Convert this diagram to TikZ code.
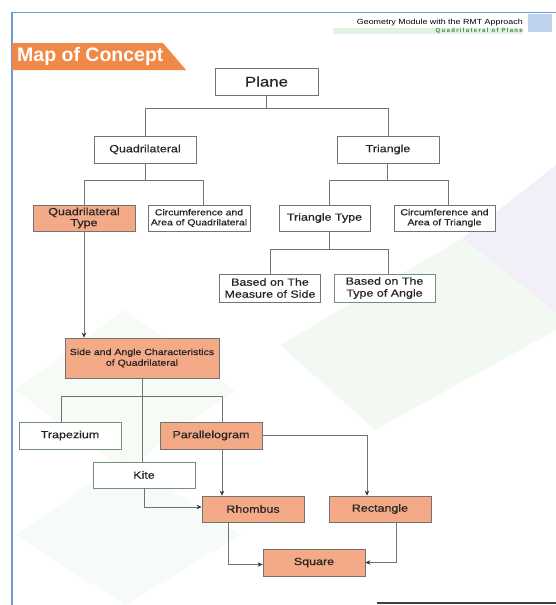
\documentclass[tikz,border=0pt]{standalone}
\usepackage{fontspec}
\setmainfont[FakeStretch=1.2,FakeBold=0.6]{Liberation Sans}
\newfontfamily\hdfont{Liberation Sans}
\usetikzlibrary{arrows.meta}
\definecolor{boxgray}{RGB}{115,115,115}
\definecolor{greenborder}{RGB}{115,145,120}
\definecolor{boxorange}{RGB}{245,170,135}
\definecolor{bannerorange}{RGB}{240,137,72}
\definecolor{pageblue}{RGB}{110,155,216}
\definecolor{bggreen}{RGB}{215,238,215}
\definecolor{bgpurple}{RGB}{232,226,245}
\definecolor{hdgreen}{RGB}{60,140,60}
\begin{document}
\begin{tikzpicture}[x=1pt,y=-1pt,
  box/.style={draw=boxgray, line width=0.75pt, fill=white, align=center, inner sep=1pt,
    text=black!85, font=\fontsize{10.4}{11.5}\selectfont, minimum width=102pt, minimum height=27pt},
  smallbox/.style={box, font=\fontsize{8.7}{10}\selectfont},
  obox/.style={box, fill=boxorange},
  conn/.style={draw=boxgray, line width=0.75pt},
  arr/.style={conn, -{Stealth[length=5pt,width=4.5pt,fill=black!80,color=black!80]}}]
\useasboundingbox (0,0) rectangle (556,605);
\fill[white] (0,0) rectangle (556,605);
% background decoration
\fill[bgpurple, opacity=0.55] (463,238) -- (556,165) -- (556,312) -- cycle;
\fill[bggreen, opacity=0.3] (463,238) -- (280,345) -- (375,430) -- (556,330) -- (556,312) -- cycle;
\fill[bggreen, opacity=0.22] (125,310) -- (15,390) -- (125,470) -- (235,390) -- cycle;
\fill[bggreen, opacity=0.2] (125,460) -- (15,535) -- (125,605) -- (240,535) -- cycle;
% page frame
\draw[pageblue, line width=1.5pt] (12,605) -- (12,12.5) -- (556,12.5);
\fill[pageblue!45] (528,14) rectangle (552,32);
\fill[bggreen!70] (333,28) rectangle (523,34);
\node[anchor=east, inner sep=0pt, font=\hdfont\fontsize{7.4}{8}\selectfont, xscale=1.2] (hd1) at (523,23) {Geometry Module with the RMT Approach};
\node[anchor=east, inner sep=0pt, text=hdgreen, font=\hdfont\bfseries\fontsize{6}{7}\selectfont\addfontfeature{LetterSpace=22}] (hd2) at (523,31) {Quadrilateral of Plane};
% banner
\fill[bannerorange] (12,43) -- (163,43) -- (186,70) -- (12,70) -- cycle;
\node[anchor=west, inner sep=0pt, text=white, font=\hdfont\bfseries\fontsize{19.5}{22}\selectfont] (title) at (17,56.5) {Map of Concept};
% nodes
\node[box, minimum width=103pt, font=\fontsize{14}{16}\selectfont] (plane) at (266.5,81.5) {Plane};
\node[box] (quad) at (145,149.5) {Quadrilateral};
\node[box] (tri) at (388,149.5) {Triangle};
\node[obox, minimum height=26pt, font=\fontsize{10.4}{11}\selectfont] (qtype) at (84,218) {Quadrilateral\\Type};
\node[smallbox, minimum height=26pt] (cquad) at (199,218) {Circumference and\\Area of Quadrilateral};
\node[box, minimum width=91pt, minimum height=26pt] (ttype) at (324.5,218) {Triangle Type};
\node[smallbox, minimum width=101pt, minimum height=26pt] (ctri) at (444.5,218) {Circumference and\\Area of Triangle};
\node[box, minimum width=101pt, minimum height=28pt, font=\fontsize{10.4}{12}\selectfont] (side) at (270,288) {Based on The\\Measure of Side};
\node[box, draw=greenborder, minimum width=101pt, minimum height=28pt, font=\fontsize{10.4}{12}\selectfont] (angle) at (384.5,288) {Based on The\\Type of Angle};
\node[obox, minimum width=154pt, minimum height=40pt, font=\fontsize{8.8}{10.7}\selectfont] (sac) at (142,358) {Side and Angle Characteristics\\of Quadrilateral};
\node[box, draw=greenborder] (trap) at (70,435.5) {Trapezium};
\node[obox] (para) at (211,435.5) {Parallelogram};
\node[box, draw=greenborder, minimum height=26pt] (kite) at (144,475) {Kite};
\node[obox, minimum height=26pt] (rhom) at (253,509) {Rhombus};
\node[obox, minimum height=26pt] (rect) at (380,509) {Rectangle};
\node[obox] (square) at (314,562.5) {Square};
% connectors
\draw[conn] (plane.south) -- ++(0,13) coordinate (b1);
\draw[conn] (b1) -| (quad.north);
\draw[conn] (b1) -| (tri.north);
\draw[conn] (quad.south) -- ++(0,17) coordinate (b2);
\draw[conn] (b2) -| (qtype.north);
\draw[conn] (b2) -| ([xshift=4pt]cquad.north);
\draw[conn] ([xshift=-0.5pt]tri.south) -- ++(0,17) coordinate (b3);
\draw[conn] (b3) -| ([xshift=4.5pt]ttype.north);
\draw[conn] (b3) -| ([xshift=4pt]ctri.north);
\draw[conn] ([xshift=4.5pt]ttype.south) -- ++(0,18) coordinate (b4);
\draw[conn] (b4) -| (side.north);
\draw[conn] (b4) -| ([xshift=4pt]angle.north);
\draw[arr] (qtype.south) -- (qtype.south |- sac.north);
\draw[conn] (sac.south) -- (sac.south |- kite.north);
\draw[conn] ([xshift=-9pt]trap.north) -- ++(0,-25) -| ([xshift=11pt]para.north);
\draw[arr] ([xshift=11pt]para.south) -- ([xshift=11pt]para.south |- rhom.north);
\draw[arr] (para.east) -| ([xshift=-13pt]rect.north);
\draw[arr] (kite.south) |- ([yshift=2pt]rhom.west);
\draw[arr] ([xshift=-25pt]rhom.south) |- ([yshift=-2pt]square.west);
\draw[arr] ([xshift=16pt]rect.south) |- (square.east);
% footer line
\draw[black!75, line width=1.5pt] (377,603) -- (556,603);
\end{tikzpicture}
\end{document}
